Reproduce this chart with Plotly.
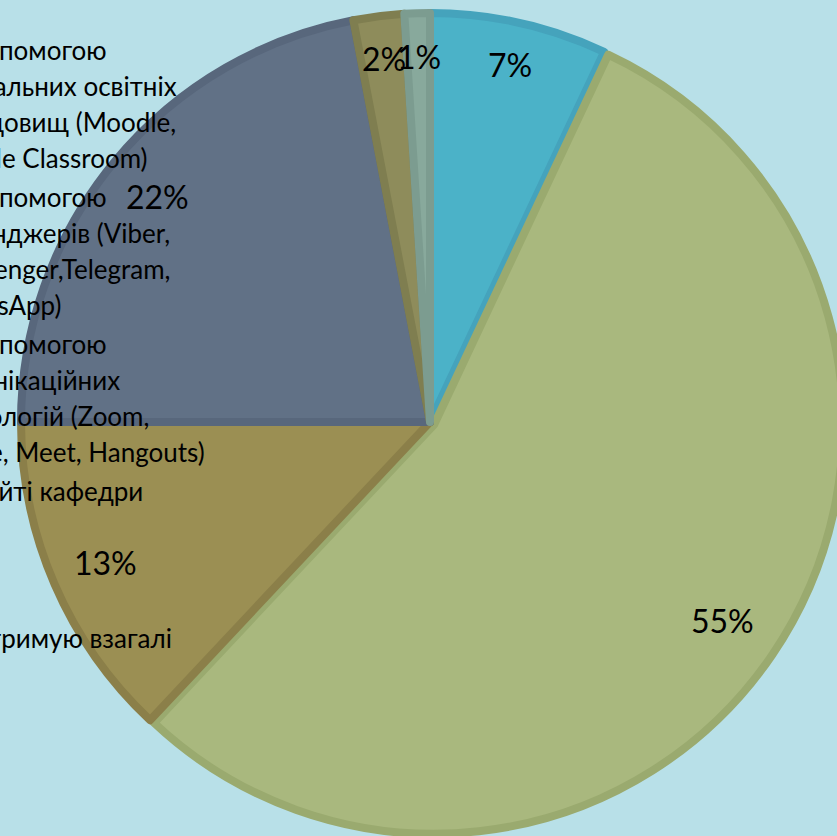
import plotly.graph_objects as go
import math

# ---- data ----
categories = [
    "Електронною поштою",
    "За допомогою віртуальних освітніх середовищ (Moodle, Google Classroom)",
    "За допомогою месенджерів (Viber, Messenger,Telegram, WhatsApp)",
    "За допомогою комунікаційних технологій (Zoom, Skype, Meet, Hangouts)",
    "На сайті кафедри",
    "Не отримую взагалі",
]
values = [7, 55, 13, 22, 2, 1]
legend_lines = [
    ["За допомогою", "віртуальних освітніх", "середовищ (Moodle,", "Google Classroom)"],
    ["За допомогою", "месенджерів (Viber,", "Messenger,Telegram,", "WhatsApp)"],
    ["За допомогою", "комунікаційних", "технологій (Zoom,", "Skype, Meet, Hangouts)"],
    ["На сайті кафедри"],
    ["Не отримую взагалі"],
]

# ---- style ----
W, H = 880, 870
BG = "#B8E0E8"
fills = ["#4BB2C8", "#A9B87E", "#9B8F53", "#617186", "#8E8C5B", "#88A99C"]
edges = ["#45A3BC", "#9AAA6F", "#8B7F49", "#58677C", "#7F7E50", "#7C9C90"]
pulls = [0, 0.012, 0, 0, 0, 0]
CX, CY = 430, 422
R = 409
half = R * (1 + max(pulls))

fig = go.Figure()
fig.add_trace(go.Pie(
    labels=categories,
    values=values,
    sort=False,
    direction="clockwise",
    rotation=0,
    pull=pulls,
    marker=dict(colors=fills, line=dict(color=edges, width=8)),
    textinfo="none",
    showlegend=False,
    domain=dict(
        x=[(CX - half) / W, (CX + half) / W],
        y=[(H - CY - half) / H, (H - CY + half) / H],
    ),
))

# percentage labels at slice mid-angles
total = sum(values)
cum = 0
for v in values:
    ang = math.radians(360 * (cum + v / 2) / total)
    cum += v
    k = 0.895 if v / total < 0.1 else 0.865
    px = CX + k * R * math.sin(ang)
    py = CY - k * R * math.cos(ang)
    fig.add_annotation(
        x=px / W, y=1 - py / H, xref="paper", yref="paper",
        text=f"{round(100 * v / total)}%", showarrow=False,
        xanchor="center", yanchor="middle",
        font=dict(family="Lato", size=32, color="black"),
    )

# legend text (cut off at the left edge)
X0 = -68
entry_y = [50, 197, 344, 491, 638]
line_h = 36
for ys, lines in zip(entry_y, legend_lines):
    for i, ln in enumerate(lines):
        fig.add_annotation(
            x=X0 / W, y=1 - (ys + i * line_h) / H, xref="paper", yref="paper",
            text=ln, showarrow=False, xanchor="left", yanchor="middle",
            align="left",
            font=dict(family="Lato", size=26, color="black"),
        )

fig.update_layout(
    width=W, height=H,
    margin=dict(l=0, r=0, t=0, b=0),
    paper_bgcolor=BG, plot_bgcolor=BG,
    showlegend=False,
)

fig.write_html(
    "out.html",
    config={"displayModeBar": False},
    post_script="document.body.style.margin='0';document.body.style.overflow='hidden';",
)
